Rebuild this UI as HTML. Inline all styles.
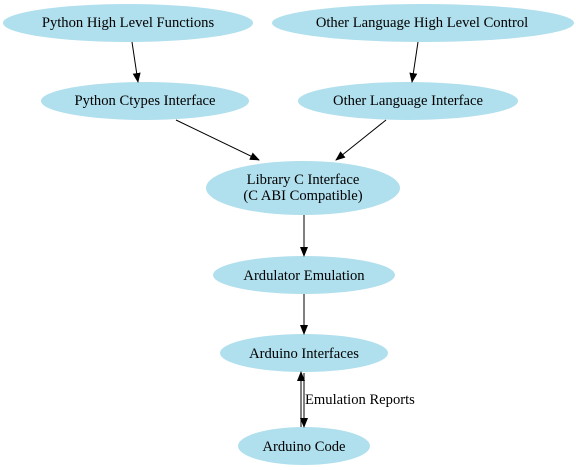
<!DOCTYPE html>
<html><head><style>body{margin:0;background:#fff}svg{display:block}</style></head><body>
<svg width="576" height="470" viewBox="0 0 576 470" xmlns="http://www.w3.org/2000/svg" font-family="Liberation Serif, serif" font-size="14.6" text-anchor="middle">
<defs><marker id="a" markerWidth="10" markerHeight="8" refX="9" refY="4" orient="auto" markerUnits="userSpaceOnUse"><path d="M0,0L10,4L0,8z" fill="#000"/></marker></defs>
<g fill="#b0dfed">
<ellipse cx="128" cy="23" rx="125" ry="19"/>
<ellipse cx="423" cy="23" rx="151" ry="19"/>
<ellipse cx="145" cy="101" rx="104" ry="19"/>
<ellipse cx="408" cy="101" rx="110" ry="19"/>
<ellipse cx="303" cy="188" rx="97" ry="27"/>
<ellipse cx="304" cy="275" rx="91" ry="19"/>
<ellipse cx="304" cy="353" rx="84" ry="19"/>
<ellipse cx="304" cy="446" rx="66" ry="19"/>
</g>
<g stroke="#000" stroke-width="1" fill="none" marker-end="url(#a)">
<line x1="132" y1="42" x2="138" y2="82"/>
<line x1="418" y1="42" x2="412" y2="82"/>
<line x1="176" y1="120" x2="259" y2="160"/>
<line x1="386" y1="120" x2="336" y2="160"/>
<line x1="304" y1="215" x2="304" y2="256"/>
<line x1="304" y1="294" x2="304" y2="334"/>
<line x1="301" y1="427" x2="301" y2="372"/>
<line x1="304" y1="373" x2="304" y2="427"/>
</g>
<g fill="#000">
<text x="128" y="27">Python High Level Functions</text>
<text x="422" y="27">Other Language High Level Control</text>
<text x="145" y="105">Python Ctypes Interface</text>
<text x="408" y="105">Other Language Interface</text>
<text x="303" y="184">Library C Interface</text>
<text x="303" y="200">(C ABI Compatible)</text>
<text x="304" y="280">Ardulator Emulation</text>
<text x="304" y="358">Arduino Interfaces</text>
<text x="304" y="451">Arduino Code</text>
<text x="305" y="404" text-anchor="start">Emulation Reports</text>
</g>
</svg>
</body></html>
